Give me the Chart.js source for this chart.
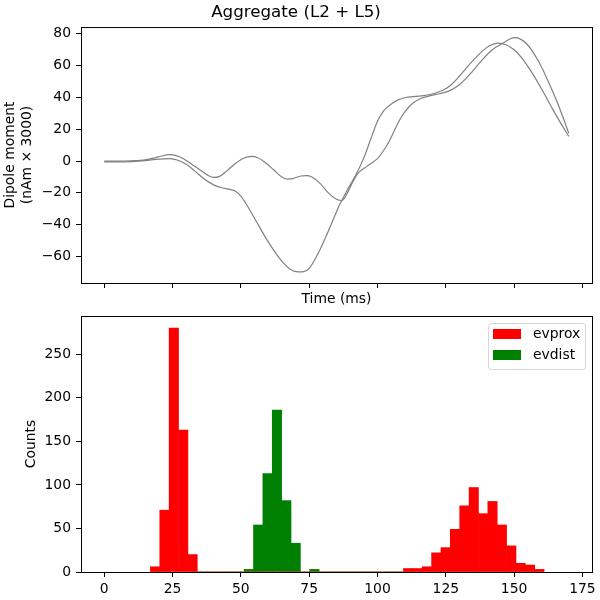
<!DOCTYPE html>
<html>
<head>
<meta charset="utf-8">
<script src="https://cdn.jsdelivr.net/npm/chart.js@4.4.1/dist/chart.umd.min.js"></script>
<style>
  html, body { margin: 0; padding: 0; background: #fff; }
  #wrap { position: relative; width: 600px; height: 600px; overflow: hidden; }
  canvas { position: absolute; left: 0; }
  #dipoleChart { top: 0; }
  #histChart { top: 290px; }
</style>
</head>
<body>
<div id="wrap">
  <canvas id="dipoleChart" width="600" height="310"></canvas>
  <canvas id="histChart" width="600" height="310"></canvas>
</div>
<script>
// dipole traces (two trials)
const timeA = [0, 5, 10, 15, 20, 24, 27, 30, 33, 36, 40, 43, 46, 48, 50, 53, 56, 59, 62, 65, 68, 71, 73, 75, 78, 81, 84, 86, 89, 92, 95, 98, 100, 102, 104, 107, 110, 115, 120, 124, 127, 130, 134, 138, 141, 144, 147, 150, 153, 156, 160, 164, 167, 170];
const dipoleA = [-0.5, -0.5, -0.3, 0.3, 1.2, 1.5, 0.5, -2, -6, -10.5, -15, -16.8, -17.8, -19, -22, -30, -39, -48, -56, -63, -68, -69.7, -69.5, -67.5, -59, -48, -36, -28, -18, -9, 2, 16, 25, 31, 34.5, 38, 39.8, 40.8, 42.2, 44.5, 48, 53.5, 61.5, 68.5, 72.5, 74.2, 73.2, 70, 64.5, 57, 45.5, 33, 24, 15.5];

const timeB = [0, 5, 10, 15, 18, 21, 24, 26, 29, 32, 35, 38, 40, 42, 45, 48, 51, 54, 56, 59, 62, 65, 67, 69, 72, 74, 76, 79, 82, 85, 87, 89, 91, 93, 96, 98, 100, 102, 104, 106, 108, 110, 113, 116, 119, 123, 126, 130, 134, 138, 142, 146, 150, 152, 155, 158.5, 162, 166, 170];
const dipoleB = [0, 0, 0.2, 0.8, 1.8, 3.2, 4, 3.6, 1.5, -2, -5.5, -9, -10.3, -9.8, -6, -1.5, 1.8, 2.9, 2.2, -1, -5.5, -10, -11.3, -11, -9.4, -9.2, -10, -14, -20, -24, -24.8, -20, -13, -7.5, -3.5, -1, 1.5, 6, 11.5, 18.5, 25.5, 31, 36.5, 39.5, 41, 42.5, 44, 48, 55, 63, 70, 74.2, 77.6, 77, 73, 64, 52, 36, 17.5];

// spike histogram
const binStart = 16.9;
const binWidth = 3.43;
const evproxCounts = [6, 71, 280, 163, 20, 0, 0, 0, 0, 0, 0, 0, 0, 0, 0, 0, 0, 0, 0, 0, 0, 0, 0, 0, 0, 0, 0, 4, 4, 6, 22, 28, 49, 76, 97, 67, 81, 54, 30, 10, 8, 3];
const evdistCounts = [0, 0, 0, 0, 0, 0, 0, 0, 0, 0, 3, 54, 113, 186, 82, 33, 0, 3, 0, 0, 0, 0, 0, 0, 0, 0, 0, 0, 0, 0, 0, 0, 0, 0, 0, 0, 0, 0, 0, 0, 0, 0];

const timeTicks = [0, 25, 50, 75, 100, 125, 150, 175];
const dipoleTicks = [-60, -40, -20, 0, 20, 40, 60, 80];
const countTicks = [0, 50, 100, 150, 200, 250];

Chart.defaults.font.family = "'DejaVu Sans', sans-serif";
Chart.defaults.font.size = 13.9;
Chart.defaults.color = '#000';

// matplotlib-style box round the plot area
const axisFrame = {
  id: 'axisFrame',
  afterDatasetsDraw(chart) {
    const { ctx, chartArea: a } = chart;
    ctx.save();
    ctx.strokeStyle = '#000';
    ctx.lineWidth = 1;
    ctx.strokeRect(a.left + 0.5, a.top + 0.5, a.width, a.height);
    ctx.restore();
  }
};

// legend inside the upper right corner
const innerLegend = {
  id: 'innerLegend',
  afterDraw(chart) {
    const { ctx, chartArea: a } = chart;
    const boxW = 97, boxH = 46;
    const x = a.right - 7 - boxW;
    const y = a.top + 7;
    ctx.save();
    ctx.beginPath();
    ctx.roundRect(x + 0.5, y + 0.5, boxW, boxH, 3);
    ctx.fillStyle = 'rgba(255,255,255,0.8)';
    ctx.fill();
    ctx.strokeStyle = 'rgba(204,204,204,0.8)';
    ctx.lineWidth = 1;
    ctx.stroke();
    ctx.font = "13.9px 'DejaVu Sans', sans-serif";
    ctx.textBaseline = 'middle';
    chart.data.datasets.forEach((ds, i) => {
      const rowY = y + 6 + i * 21;
      ctx.fillStyle = ds.backgroundColor;
      ctx.fillRect(x + 5, rowY, 28, 10);
      ctx.fillStyle = '#000';
      ctx.fillText(ds.label, x + 45, rowY + 5);
    });
    ctx.restore();
  }
};

const minusSign = v => String(v).replace('-', '\u2212');

new Chart(document.getElementById('dipoleChart'), {
  type: 'line',
  data: {
    datasets: [
      {
        data: timeA.map((t, i) => ({ x: t, y: dipoleA[i] })),
        borderColor: '#808080',
        borderWidth: 1.2,
        pointRadius: 0,
        cubicInterpolationMode: 'monotone'
      },
      {
        data: timeB.map((t, i) => ({ x: t, y: dipoleB[i] })),
        borderColor: '#808080',
        borderWidth: 1.2,
        pointRadius: 0,
        cubicInterpolationMode: 'monotone'
      }
    ]
  },
  options: {
    responsive: false,
    animation: false,
    layout: { padding: { left: 0, right: 8, top: 1, bottom: 0 } },
    plugins: {
      legend: { display: false },
      tooltip: { enabled: false },
      title: {
        display: true,
        text: 'Aggregate (L2 + L5)',
        font: { size: 16.7, weight: 'normal' },
        padding: { top: 2, bottom: 4 }
      }
    },
    scales: {
      x: {
        type: 'linear',
        min: -8.5,
        max: 178.5,
        afterBuildTicks: axis => { axis.ticks = timeTicks.map(v => ({ value: v })); },
        ticks: { display: false },
        grid: { drawOnChartArea: false, tickLength: 5, tickColor: '#000', tickWidth: 1 },
        border: { display: false },
        title: { display: true, text: 'Time (ms)', padding: { top: 0, bottom: 2 } },
        afterFit: axis => { axis.height = 27; }
      },
      y: {
        min: -76.7,
        max: 84.3,
        afterBuildTicks: axis => { axis.ticks = dipoleTicks.map(v => ({ value: v })); },
        ticks: { padding: 5, callback: minusSign },
        grid: { drawOnChartArea: false, tickLength: 5, tickColor: '#000', tickWidth: 1 },
        border: { display: false },
        title: { display: true, text: ['Dipole moment', '(nAm \u00d7 3000)'], padding: { top: 2, bottom: 0 } },
        afterFit: axis => { axis.width = 81; }
      }
    }
  },
  plugins: [axisFrame]
});

const binCenters = evproxCounts.map((_, i) => binStart + (i + 0.5) * binWidth);

new Chart(document.getElementById('histChart'), {
  type: 'bar',
  data: {
    datasets: [
      {
        label: 'evprox',
        data: binCenters.map((x, i) => ({ x: x, y: evproxCounts[i] })),
        backgroundColor: '#ff0000',
        borderWidth: 0,
        barPercentage: 1,
        categoryPercentage: 1,
        grouped: false
      },
      {
        label: 'evdist',
        data: binCenters.map((x, i) => ({ x: x, y: evdistCounts[i] })),
        backgroundColor: '#008000',
        borderWidth: 0,
        barPercentage: 1,
        categoryPercentage: 1,
        grouped: false
      }
    ]
  },
  options: {
    responsive: false,
    animation: false,
    layout: { padding: { left: 0, right: 8, top: 26, bottom: 0 } },
    plugins: {
      legend: { display: false },
      tooltip: { enabled: false }
    },
    scales: {
      x: {
        type: 'linear',
        min: -8.5,
        max: 178.5,
        offset: false,
        afterBuildTicks: axis => { axis.ticks = timeTicks.map(v => ({ value: v })); },
        ticks: { padding: 4, maxRotation: 0 },
        grid: { offset: false, drawOnChartArea: false, tickLength: 5, tickColor: '#000', tickWidth: 1 },
        border: { display: false },
        afterFit: axis => { axis.height = 28; }
      },
      y: {
        min: 0,
        max: 294,
        afterBuildTicks: axis => { axis.ticks = countTicks.map(v => ({ value: v })); },
        ticks: { padding: 5 },
        grid: { drawOnChartArea: false, tickLength: 5, tickColor: '#000', tickWidth: 1 },
        border: { display: false },
        title: { display: true, text: 'Counts', padding: { top: 23, bottom: 0 } },
        afterFit: axis => { axis.width = 81; }
      }
    }
  },
  plugins: [axisFrame, innerLegend]
});
</script>
</body>
</html>
